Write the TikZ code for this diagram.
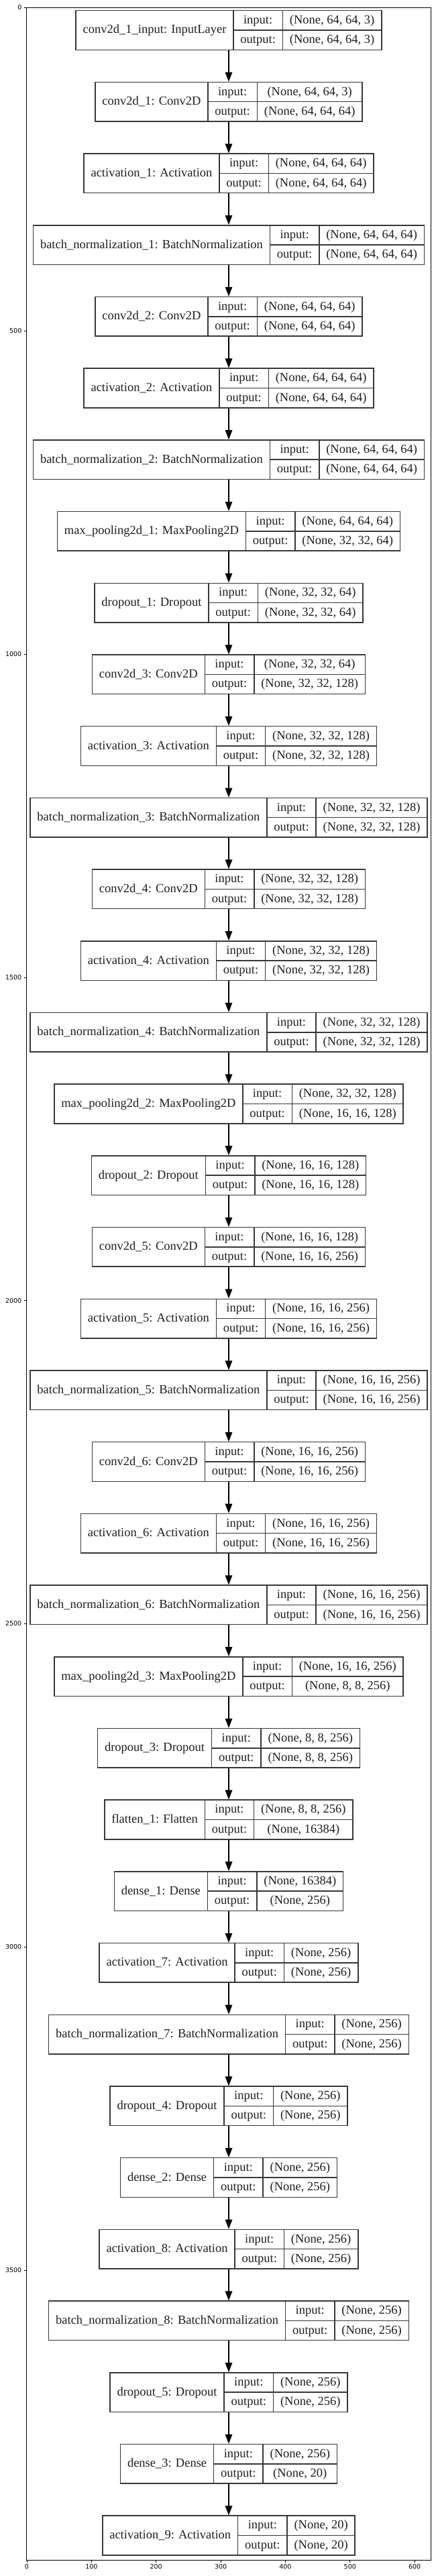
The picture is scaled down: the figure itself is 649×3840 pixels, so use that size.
\documentclass[tikz,border=0pt]{standalone}
\usepackage{fontspec}
\setmainfont{Liberation Serif}
\newfontfamily\tickfont{DejaVu Sans}
\usetikzlibrary{arrows.meta}
\newcommand\lfont{\fontsize{18.5}{22}\selectfont}
\newlength\lwA \newlength\lwB \newlength\lwC \newlength\lwD
\def\cx{341}
\def\ytop{15.7}
\def\pitch{106.7}
\def\bh{58.6}
\def\boff{5}
\tikzset{
  layerbox/.style={draw=black!78, line width=1.5pt, minimum height=58.6pt, inner sep=0pt, fill=white},
  divider/.style={draw=black!78, line width=1.5pt},
  lbl/.style={anchor=base, inner sep=0pt, font=\lfont, text=black!88},
  arr/.style={draw=black, line width=1.4pt, -{Triangle[length=14pt,width=10.5pt]}},
  tickmark/.style={draw=black, line width=0.8pt},
  ticklbl/.style={inner sep=0pt, font=\tickfont\fontsize{9.5}{11}\selectfont, text=black},
}
% measuring pass (outside the picture)
\newcommand\measurelayer[4]{%
  \settowidth\lwA{\lfont #2}\addtolength\lwA{21pt}%
  \settowidth\lwB{\lfont output:}\addtolength\lwB{21pt}%
  \settowidth\lwC{\lfont #3}\settowidth\lwD{\lfont #4}%
  \ifdim\lwD>\lwC\relax\setlength\lwC{\lwD}\fi\addtolength\lwC{21pt}%
  \expandafter\xdef\csname lwA@#1\endcsname{\the\lwA}%
  \expandafter\xdef\csname lwB@#1\endcsname{\the\lwB}%
  \expandafter\xdef\csname lwC@#1\endcsname{\the\lwC}%
}
% drawing pass
\newcommand\drawlayer[4]{%
  \pgfmathsetmacro\wa{\csname lwA@#1\endcsname}%
  \pgfmathsetmacro\wb{\csname lwB@#1\endcsname}%
  \pgfmathsetmacro\wc{\csname lwC@#1\endcsname}%
  \pgfmathsetmacro\tw{\wa+\wb+\wc}%
  \pgfmathsetmacro\xl{\cx-\tw/2}%
  \pgfmathsetmacro\xa{\xl+\wa}%
  \pgfmathsetmacro\xb{\xa+\wb}%
  \pgfmathsetmacro\xr{\xl+\tw}%
  \pgfmathsetmacro\yt{\ytop+\pitch*#1}%
  \pgfmathsetmacro\ym{\yt+\bh/2}%
  \pgfmathsetmacro\yb{\yt+\bh}%
  \node[layerbox, minimum width=\tw pt] (L#1) at (\cx,\ym) {};
  \draw[divider] (\xa,\yt) -- (\xa,\yb) (\xb,\yt) -- (\xb,\yb) (\xa,\ym) -- (\xr,\ym);
  \node[lbl] (N#1) at ({(\xl+\xa)/2},{\ym+\boff}) {#2};
  \node[lbl] (I#1) at ({(\xa+\xb)/2},{\yt+\bh/4+\boff}) {input:};
  \node[lbl] (O#1) at ({(\xa+\xb)/2},{\yt+3*\bh/4+\boff}) {output:};
  \node[lbl] (S#1) at ({(\xb+\xr)/2},{\yt+\bh/4+\boff}) {#3};
  \node[lbl] (T#1) at ({(\xb+\xr)/2},{\yt+3*\bh/4+\boff}) {#4};
}
\def\alllayers{%
\LL{0}{conv2d\_1\_input: InputLayer}{(None, 64, 64, 3)}{(None, 64, 64, 3)}
\LL{1}{conv2d\_1: Conv2D}{(None, 64, 64, 3)}{(None, 64, 64, 64)}
\LL{2}{activation\_1: Activation}{(None, 64, 64, 64)}{(None, 64, 64, 64)}
\LL{3}{batch\_normalization\_1: BatchNormalization}{(None, 64, 64, 64)}{(None, 64, 64, 64)}
\LL{4}{conv2d\_2: Conv2D}{(None, 64, 64, 64)}{(None, 64, 64, 64)}
\LL{5}{activation\_2: Activation}{(None, 64, 64, 64)}{(None, 64, 64, 64)}
\LL{6}{batch\_normalization\_2: BatchNormalization}{(None, 64, 64, 64)}{(None, 64, 64, 64)}
\LL{7}{max\_pooling2d\_1: MaxPooling2D}{(None, 64, 64, 64)}{(None, 32, 32, 64)}
\LL{8}{dropout\_1: Dropout}{(None, 32, 32, 64)}{(None, 32, 32, 64)}
\LL{9}{conv2d\_3: Conv2D}{(None, 32, 32, 64)}{(None, 32, 32, 128)}
\LL{10}{activation\_3: Activation}{(None, 32, 32, 128)}{(None, 32, 32, 128)}
\LL{11}{batch\_normalization\_3: BatchNormalization}{(None, 32, 32, 128)}{(None, 32, 32, 128)}
\LL{12}{conv2d\_4: Conv2D}{(None, 32, 32, 128)}{(None, 32, 32, 128)}
\LL{13}{activation\_4: Activation}{(None, 32, 32, 128)}{(None, 32, 32, 128)}
\LL{14}{batch\_normalization\_4: BatchNormalization}{(None, 32, 32, 128)}{(None, 32, 32, 128)}
\LL{15}{max\_pooling2d\_2: MaxPooling2D}{(None, 32, 32, 128)}{(None, 16, 16, 128)}
\LL{16}{dropout\_2: Dropout}{(None, 16, 16, 128)}{(None, 16, 16, 128)}
\LL{17}{conv2d\_5: Conv2D}{(None, 16, 16, 128)}{(None, 16, 16, 256)}
\LL{18}{activation\_5: Activation}{(None, 16, 16, 256)}{(None, 16, 16, 256)}
\LL{19}{batch\_normalization\_5: BatchNormalization}{(None, 16, 16, 256)}{(None, 16, 16, 256)}
\LL{20}{conv2d\_6: Conv2D}{(None, 16, 16, 256)}{(None, 16, 16, 256)}
\LL{21}{activation\_6: Activation}{(None, 16, 16, 256)}{(None, 16, 16, 256)}
\LL{22}{batch\_normalization\_6: BatchNormalization}{(None, 16, 16, 256)}{(None, 16, 16, 256)}
\LL{23}{max\_pooling2d\_3: MaxPooling2D}{(None, 16, 16, 256)}{(None, 8, 8, 256)}
\LL{24}{dropout\_3: Dropout}{(None, 8, 8, 256)}{(None, 8, 8, 256)}
\LL{25}{flatten\_1: Flatten}{(None, 8, 8, 256)}{(None, 16384)}
\LL{26}{dense\_1: Dense}{(None, 16384)}{(None, 256)}
\LL{27}{activation\_7: Activation}{(None, 256)}{(None, 256)}
\LL{28}{batch\_normalization\_7: BatchNormalization}{(None, 256)}{(None, 256)}
\LL{29}{dropout\_4: Dropout}{(None, 256)}{(None, 256)}
\LL{30}{dense\_2: Dense}{(None, 256)}{(None, 256)}
\LL{31}{activation\_8: Activation}{(None, 256)}{(None, 256)}
\LL{32}{batch\_normalization\_8: BatchNormalization}{(None, 256)}{(None, 256)}
\LL{33}{dropout\_5: Dropout}{(None, 256)}{(None, 256)}
\LL{34}{dense\_3: Dense}{(None, 256)}{(None, 20)}
\LL{35}{activation\_9: Activation}{(None, 20)}{(None, 20)}
}
\begin{document}
\let\LL\measurelayer
\alllayers
\begin{tikzpicture}[x=1pt,y=-1pt]
\useasboundingbox (0,0) rectangle (649,3840);
\fill[white] (0,0) rectangle (649,3840);
% axes frame
\draw[line width=0.9pt] (39.3,11) rectangle (642.3,3816);
\foreach \v in {0,500,...,3500} {
  \draw[tickmark] (39.3,{11.5+0.9636*\v}) -- ++(-3.5,0);
  \node[ticklbl, anchor=east] (ty\v) at (32.5,{11.5+0.9636*\v}) {\v};
}
\foreach \v in {0,100,...,600} {
  \draw[tickmark] ({40+0.9636*\v},3816) -- ++(0,3.5);
  \node[ticklbl, anchor=north] (tx\v) at ({40+0.9636*\v},3822.5) {\v};
}
% layers
\let\LL\drawlayer
\alllayers
% connectors
\foreach \i [evaluate=\i as \j using int(\i+1)] in {0,...,34} {
  \draw[arr] (L\i.south) -- (L\j.north);
}
\end{tikzpicture}
\end{document}
